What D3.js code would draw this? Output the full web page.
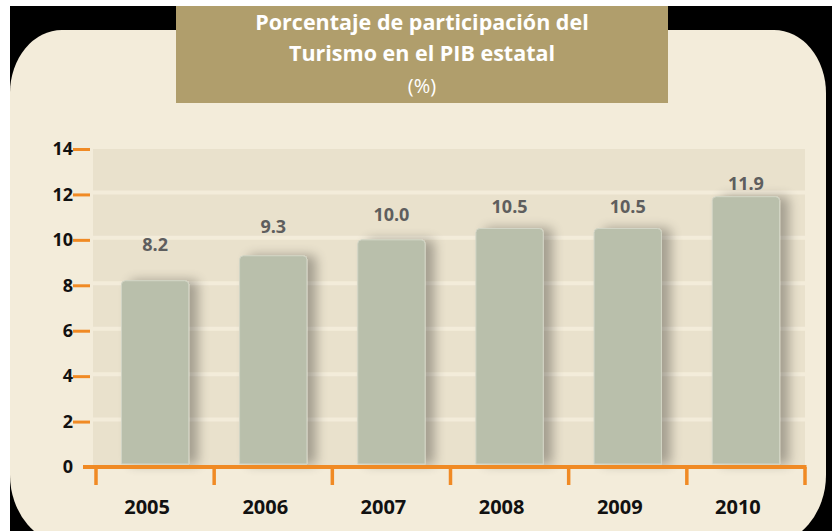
<!DOCTYPE html>
<html>
<head>
<meta charset="utf-8">
<script src="https://cdn.jsdelivr.net/npm/d3@7"></script>
<style>
  html, body { margin: 0; padding: 0; background: #fff; }
  svg { display: block; }
</style>
</head>
<body>
<script>
// values
const years = ["2005", "2006", "2007", "2008", "2009", "2010"];
const values = [8.2, 9.3, 10.0, 10.5, 10.5, 11.9];
const labels = ["8.2", "9.3", "10.0", "10.5", "10.5", "11.9"];
const yTicks = [0, 2, 4, 6, 8, 10, 12, 14];
const titleLines = ["Porcentaje de participación del", "Turismo en el PIB estatal"];
const unit = "(%)";

const width = 832, height = 531;
const margin = {top: 149, right: 27, bottom: 64, left: 96};
const font = "'Open Sans', sans-serif";

const svg = d3.select("body").append("svg")
    .attr("width", width)
    .attr("height", height);

const defs = svg.append("defs");
const f = defs.append("filter").attr("id", "shadow")
    .attr("x", "-20%").attr("y", "-20%").attr("width", "160%").attr("height", "140%");
f.append("feGaussianBlur").attr("in", "SourceAlpha").attr("stdDeviation", 6);
f.append("feOffset").attr("dx", 9).attr("dy", 0).attr("result", "blur");
f.append("feComponentTransfer").append("feFuncA").attr("type", "linear").attr("slope", 0.3);
const fm = f.append("feMerge");
fm.append("feMergeNode");
fm.append("feMergeNode").attr("in", "SourceGraphic");

// black frame + cream panel
svg.append("rect")
    .attr("x", 10).attr("y", 6)
    .attr("width", width - 10).attr("height", height - 6)
    .attr("fill", "#000");
const L = 10, R = 826, T = 30, B = 545;
svg.append("path")
    .attr("fill", "#f3ecda")
    .attr("d", `M${L + 52},${T}H${R - 52}A52,63 0 0 1 ${R},${T + 63}V${B - 70}` +
      `A60,70 0 0 1 ${R - 60},${B}H${L + 60}A60,70 0 0 1 ${L},${B - 70}V${T + 63}A52,63 0 0 1 ${L + 52},${T}Z`);

const x = d3.scaleBand()
    .domain(years)
    .range([margin.left, width - margin.right])
    .paddingInner(0.43).paddingOuter(0.215);

const xEdge = d3.scaleLinear()
    .domain([0, years.length])
    .range([margin.left, width - margin.right]);

const y = d3.scaleLinear()
    .domain([0, 14])
    .range([467, margin.top]);

// label placement scale (labels sit closer to the taller bars)
const yLabel = d3.scaleLinear()
    .domain([0, 14])
    .range([380, 149]);

// plot background band
svg.append("rect")
    .attr("x", 93).attr("y", y(14))
    .attr("width", width - margin.right - 93)
    .attr("height", y(0) - y(14) - 2)
    .attr("fill", "#e9e1cc");

// gridlines
svg.append("g")
  .selectAll("line")
  .data(yTicks.filter(d => d > 0 && d < 14))
  .join("line")
    .attr("x1", 93).attr("x2", width - margin.right)
    .attr("y1", d => y(d) - 2).attr("y2", d => y(d) - 2)
    .attr("stroke", "#f3ecda")
    .attr("stroke-width", 4);

// bars
svg.append("g")
  .selectAll("path")
  .data(values)
  .join("path")
    .attr("filter", "url(#shadow)")
    .attr("fill", "#b9bfab")
    .attr("stroke", "#d2d5c6")
    .attr("stroke-width", 1)
    .attr("d", (d, i) => {
      const x0 = x(years[i]), w = x.bandwidth();
      const t = y(d), b = y(0) - 3, r = 4;
      return `M${x0},${b}V${t + r}Q${x0},${t} ${x0 + r},${t}H${x0 + w - r}Q${x0 + w},${t} ${x0 + w},${t + r}V${b}Z`;
    });

// value labels
svg.append("g")
  .selectAll("text")
  .data(values)
  .join("text")
    .attr("x", (d, i) => x(years[i]) + x.bandwidth() / 2)
    .attr("y", d => yLabel(d) + 6)
    .attr("text-anchor", "middle")
    .attr("font-family", font)
    .attr("font-weight", "bold")
    .attr("font-size", 18)
    .attr("fill", "#5e5e5e")
    .text((d, i) => labels[i]);

// y axis
const yAxis = svg.append("g")
    .attr("transform", "translate(90,0)")
    .call(d3.axisLeft(y).tickValues(yTicks).tickSize(17).tickPadding(0));
yAxis.select(".domain").remove();
yAxis.selectAll(".tick line")
    .attr("stroke", "#f08a24").attr("stroke-width", 3)
    .attr("display", d => d === 0 ? "none" : null);
yAxis.selectAll(".tick text")
    .attr("font-family", font)
    .attr("font-weight", "bold")
    .attr("font-size", 18)
    .attr("fill", "#111")
    .attr("x", -17);

// x axis
const xg = svg.append("g");
xg.append("line")
    .attr("x1", 83).attr("x2", xEdge(years.length) + 1.5)
    .attr("y1", y(0)).attr("y2", y(0))
    .attr("stroke", "#f08a24").attr("stroke-width", 4);
xg.selectAll(".tk")
  .data(d3.range(years.length + 1))
  .join("line")
    .attr("class", "tk")
    .attr("x1", d => xEdge(d)).attr("x2", d => xEdge(d))
    .attr("y1", y(0)).attr("y2", y(0) + 18)
    .attr("stroke", "#f08a24").attr("stroke-width", 3.5);
xg.selectAll("text")
  .data(years)
  .join("text")
    .attr("x", d => x(d) + x.bandwidth() / 2 - 8)
    .attr("y", 514)
    .attr("text-anchor", "middle")
    .attr("font-family", font)
    .attr("font-weight", "bold")
    .attr("font-size", 20)
    .attr("fill", "#111")
    .text(d => d);

// title box
svg.append("rect")
    .attr("x", 176).attr("y", 6)
    .attr("width", 492).attr("height", 97)
    .attr("fill", "#b09e6c");
svg.append("g")
  .selectAll("text")
  .data(titleLines)
  .join("text")
    .attr("x", 422)
    .attr("y", (d, i) => 30 + i * 31)
    .attr("text-anchor", "middle")
    .attr("font-family", font)
    .attr("font-weight", "bold")
    .attr("font-size", 21.5)
    .attr("fill", "#fff")
    .text(d => d);
svg.append("text")
    .attr("x", 422).attr("y", 93)
    .attr("text-anchor", "middle")
    .attr("font-family", font)
    .attr("font-size", 20)
    .attr("fill", "#fff")
    .text(unit);
</script>
</body>
</html>
